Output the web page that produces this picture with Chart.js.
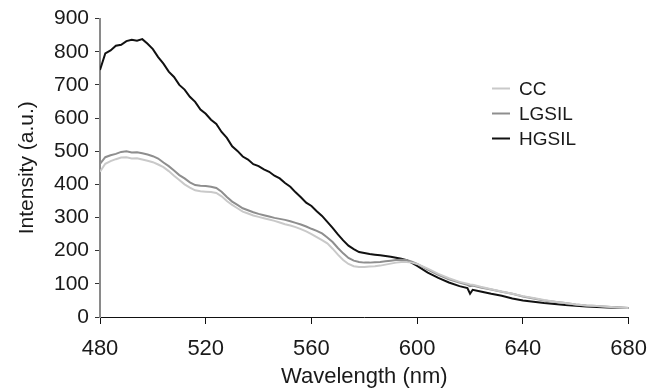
<!DOCTYPE html>
<html>
<head>
<meta charset="utf-8">
<script src="https://cdn.jsdelivr.net/npm/chart.js@4/dist/chart.umd.min.js"></script>
<style>
  html, body { margin: 0; padding: 0; background: #fff; }
  #wrap { width: 659px; height: 392px; position: relative; }
</style>
</head>
<body>
<div id="wrap"><canvas id="c" width="659" height="392"></canvas></div>
<script>
// Wavelength (nm)
const wavelengths = [
  480,482,484,486,488,490,492,494,496,498,500,502,504,506,508,510,512,514,516,518,
  520,522,524,526,528,530,532,534,536,538,540,542,544,546,548,550,552,554,556,558,
  560,562,564,566,568,570,572,574,576,578,580,582,584,586,588,590,592,594,596,598,
  600,604,608,612,616,619,620,621,624,628,632,636,640,644,648,652,656,660,664,668,
  672,676,680
];
const seriesNames = ["CC", "LGSIL", "HGSIL"];
const ccValues = [
  438,462,470,476,481,482,478,479,475,471,467,460,452,440,426,413,400,390,382,379,
  378,377,374,364,350,338,328,318,312,306,302,298,294,290,285,280,276,271,265,258,
  250,241,232,222,206,188,172,160,153,151,151,152,153,155,158,161,164,166,166,164,
  160,146,130,117,106,100,98,97,91,84,77,70,63,57,51,46,42,38,35,33,
  31,29,27
];
const lgsilValues = [
  462,482,488,492,498,500,496,497,494,490,485,478,466,455,442,428,418,406,398,396,
  395,393,389,378,362,348,338,328,322,316,311,307,303,299,296,293,289,284,279,273,
  266,260,252,240,226,208,192,178,170,166,164,164,165,166,168,170,172,173,172,167,
  160,143,127,114,104,97,93,95,89,83,76,70,62,56,50,46,42,38,35,33,
  31,29,27
];
const hgsilValues = [
  745,795,804,818,821,832,836,833,838,824,808,784,764,740,724,700,686,664,649,626,
  613,595,582,558,540,515,501,484,475,461,455,445,438,426,418,404,393,376,361,345,
  335,319,305,287,269,249,231,215,205,196,193,190,188,186,184,182,179,176,171,163,
  154,134,118,104,93,87,70,82,77,70,64,56,50,46,42,39,36,34,32,30,
  29,28,27
];
const xTicks = [480, 520, 560, 600, 640, 680];
const yTicks = [0, 100, 200, 300, 400, 500, 600, 700, 800, 900];
const seriesColors = ["#c9c9c9", "#8e8e8e", "#111111"];

const allValues = [ccValues, lgsilValues, hgsilValues];
const datasets = seriesNames.map((name, i) => ({
  label: name,
  data: wavelengths.map((w, j) => ({ x: w, y: allValues[i][j] })),
  borderColor: seriesColors[i],
  borderWidth: 2,
  pointRadius: 0,
  tension: 0,
  fill: false
}));

const FONT = "'Liberation Sans', Arial, Helvetica, sans-serif";

const legendPlugin = {
  id: 'customLegend',
  afterDraw(chart) {
    const ctx = chart.ctx;
    const rows = [88.5, 113.5, 138.5];
    ctx.save();
    ctx.font = "19px " + FONT;
    ctx.textBaseline = 'middle';
    ctx.textAlign = 'left';
    chart.data.datasets.forEach((ds, i) => {
      ctx.strokeStyle = ds.borderColor;
      ctx.lineWidth = 2;
      ctx.beginPath();
      ctx.moveTo(492, rows[i]);
      ctx.lineTo(510, rows[i]);
      ctx.stroke();
      ctx.fillStyle = '#1a1a1a';
      ctx.fillText(ds.label, 519, rows[i] + 1);
    });
    ctx.restore();
  }
};

new Chart(document.getElementById('c'), {
  type: 'line',
  data: { datasets },
  options: {
    responsive: false,
    animation: false,
    devicePixelRatio: 1,
    layout: { padding: { top: 16, right: 30, bottom: 0, left: 0 } },
    plugins: { legend: { display: false }, tooltip: { enabled: false } },
    scales: {
      x: {
        type: 'linear',
        min: 480, max: 680,
        afterBuildTicks(scale) { scale.ticks = xTicks.map(v => ({ value: v })); },
        afterFit(scale) { scale.height = 75; },
        grid: { display: true, drawOnChartArea: false, drawTicks: true, tickLength: 7, color: '#111', lineWidth: 1 },
        border: { display: true, color: '#111', width: 1 },
        ticks: { color: '#1a1a1a', font: { family: FONT, size: 22 }, padding: 12, maxRotation: 0 },
        title: { display: true, text: 'Wavelength (nm)', color: '#1a1a1a', font: { family: FONT, size: 22 }, padding: { top: 0, bottom: 2 } }
      },
      y: {
        type: 'linear',
        min: 0, max: 900,
        afterBuildTicks(scale) { scale.ticks = yTicks.map(v => ({ value: v })); },
        afterFit(scale) { scale.width = 100; },
        grid: { display: true, drawOnChartArea: false, drawTicks: true, tickLength: 5, color: '#333', lineWidth: 1 },
        border: { display: true, color: '#8a8a8a', width: 2 },
        ticks: { color: '#1a1a1a', font: { family: FONT, size: 21 }, padding: 6 },
        title: { display: true, text: 'Intensity (a.u.)', color: '#1a1a1a', font: { family: FONT, size: 21 }, padding: { top: 15, bottom: 0 } }
      }
    }
  },
  plugins: [legendPlugin]
});
</script>
</body>
</html>
